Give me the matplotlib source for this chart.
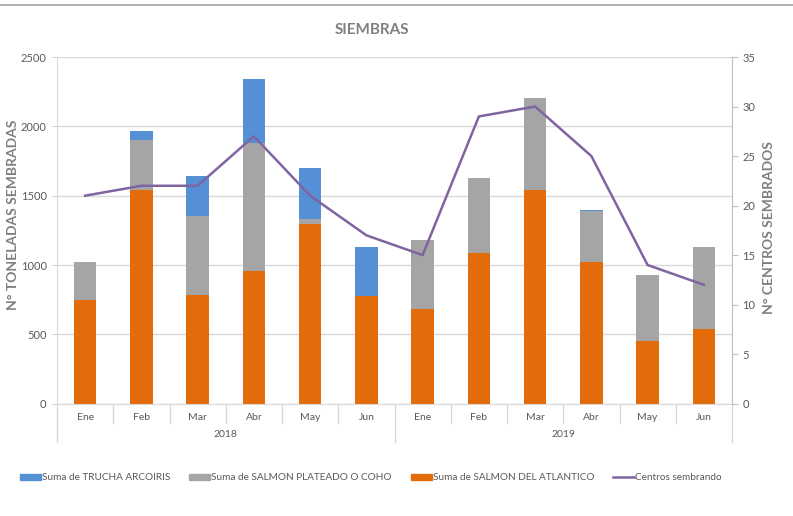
import matplotlib.pyplot as plt
from matplotlib.lines import Line2D
import matplotlib.transforms as mtransforms
import numpy as np

plt.rcParams['font.family'] = ['Lato', 'DejaVu Sans']

# datos
meses = ['Ene', 'Feb', 'Mar', 'Abr', 'May', 'Jun'] * 2
anios = ['2018', '2019']
atlantico = [750, 1540, 785, 960, 1295, 780, 685, 1090, 1540, 1020, 455, 540]
coho = [270, 360, 565, 920, 35, 0, 495, 535, 665, 370, 475, 590]
trucha = [0, 70, 295, 460, 370, 350, 0, 0, 0, 10, 0, 0]
centros = [21, 22, 22, 27, 21, 17, 15, 29, 30, 25, 14, 12]

C_BLUE = '#5590D6'
C_GRAY = '#A5A5A5'
C_ORANGE = '#E36C0A'
C_PURPLE = '#8064A2'
C_TEXT = '#595959'
C_GRID = '#D9D9D9'

fig = plt.figure(figsize=(7.93, 5.16), dpi=100)
ax = fig.add_axes([57 / 793, 1 - 403.7 / 516, (732 - 57) / 793, (403.7 - 57) / 516])

x = np.arange(len(meses))
w = 0.4
atl = np.array(atlantico)
coh = np.array(coho)
tru = np.array(trucha)
ax.bar(x, atl, w, color=C_ORANGE, zorder=2)
ax.bar(x, coh, w, bottom=atl, color=C_GRAY, zorder=2)
ax.bar(x, tru, w, bottom=atl + coh, color=C_BLUE, zorder=2)

ax.set_xlim(-0.5, len(meses) - 0.5)
ax.set_ylim(0, 2500)
ax.set_yticks(range(0, 2501, 500))
ax.yaxis.grid(True, color=C_GRID, lw=1, zorder=0)
ax.set_axisbelow(True)
ax.set_xticks([])
for s in ['top', 'right']:
    ax.spines[s].set_visible(False)
ax.spines['left'].set_color(C_GRID)
ax.spines['bottom'].set_color(C_GRID)
ax.tick_params(axis='y', colors=C_TEXT, labelsize=8, length=4, color=C_GRID)

ax2 = ax.twinx()
ax2.plot(x, centros, color=C_PURPLE, lw=1.8, zorder=3)
ax2.set_ylim(0, 35)
ax2.set_yticks(range(0, 36, 5))
for s in ['top', 'left', 'bottom']:
    ax2.spines[s].set_visible(False)
ax2.spines['right'].set_color('#BFBFBF')
ax2.tick_params(axis='y', colors=C_TEXT, labelsize=8, length=4, color='#BFBFBF')

# eje de categorias (mes / anio)
trans = mtransforms.blended_transform_factory(ax.transData, ax.transAxes)
for i, m in enumerate(meses):
    ax.text(i, -0.041, m, transform=trans, ha='center', va='center',
            fontsize=7.5, color=C_TEXT)
for k in range(1, len(meses)):
    low = -0.11 if k == 6 else -0.056
    ax.add_line(Line2D([k - 0.5, k - 0.5], [0, low], transform=trans,
                       color=C_GRID, lw=1, clip_on=False))
for k in [-0.5, len(meses) - 0.5]:
    ax.add_line(Line2D([k, k], [0, -0.11], transform=trans,
                       color=C_GRID, lw=1, clip_on=False))
for j, a in enumerate(anios):
    ax.text(2.5 + 6 * j, -0.09, a, transform=trans, ha='center', va='center',
            fontsize=7.5, color=C_TEXT)

fig.text(372 / 793, 1 - 30 / 516, 'SIEMBRAS', ha='center', va='center',
         fontsize=11, fontweight='bold', color='#7F7F7F')
fig.text(13 / 793, 1 - 215 / 516, 'N° TONELADAS SEMBRADAS', rotation=90,
         ha='center', va='center', fontsize=10, fontweight='bold', color='#7F7F7F')
fig.text(769 / 793, 1 - 228 / 516, 'N° CENTROS SEMBRADOS', rotation=90,
         ha='center', va='center', fontsize=10, fontweight='bold', color='#7F7F7F')
fig.add_artist(Line2D([0, 1], [1 - 5 / 516, 1 - 5 / 516], color='#A6A6A6', lw=1.2))

handles = [
    plt.Rectangle((0, 0), 1, 1, color=C_BLUE),
    plt.Rectangle((0, 0), 1, 1, color=C_GRAY),
    plt.Rectangle((0, 0), 1, 1, color=C_ORANGE),
    Line2D([], [], color=C_PURPLE, lw=1.8),
]
labels = ['Suma de TRUCHA ARCOIRIS', 'Suma de SALMON PLATEADO O COHO',
          'Suma de SALMON DEL ATLANTICO', 'Centros sembrando']
fig.legend(handles, labels, loc='center', bbox_to_anchor=(371 / 793, 1 - 478 / 516),
           ncol=4, frameon=False, fontsize=7.2, handlelength=2.1, handleheight=0.5,
           handletextpad=0.1, columnspacing=1.9, labelcolor=C_TEXT)

fig.savefig('out.png', dpi=100)
